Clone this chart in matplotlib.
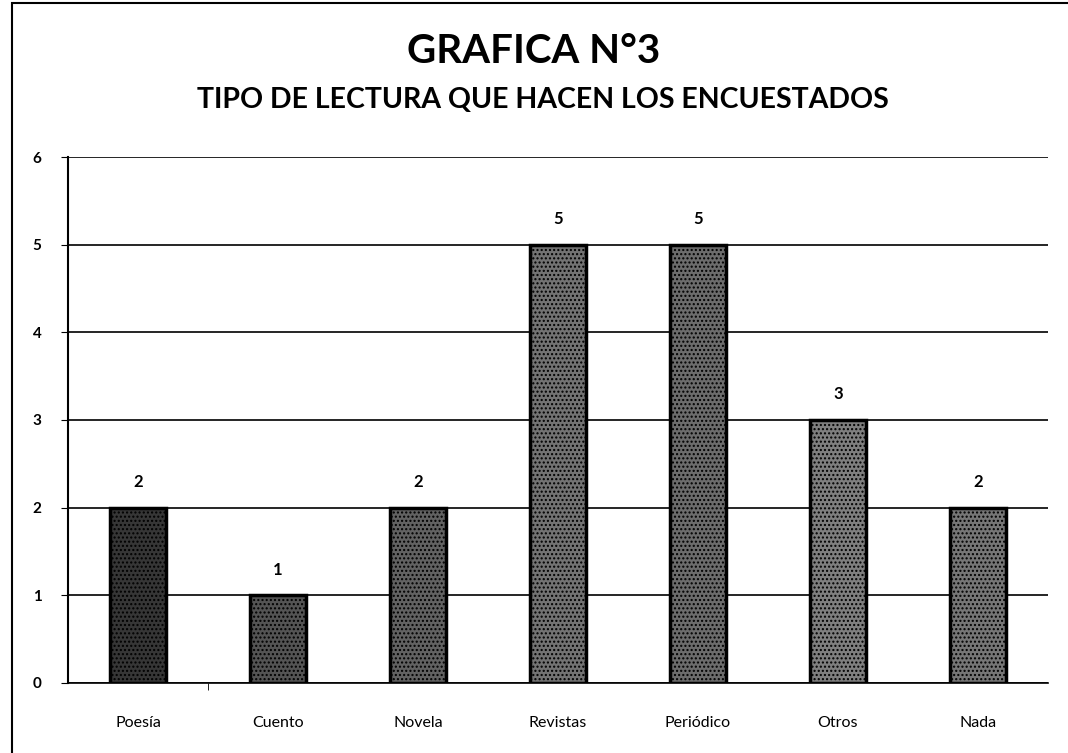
import matplotlib.pyplot as plt
from matplotlib.patches import Rectangle

categorias = ['Poesía', 'Cuento', 'Novela', 'Revistas', 'Periódico', 'Otros', 'Nada']
valores = [2, 1, 2, 5, 5, 3, 2]
grises = ['#363636', '#545454', '#626262', '#737373', '#6c6c6c', '#7f7f7f', '#767676']

plt.rcParams['font.family'] = ['Lato', 'DejaVu Sans']

fig = plt.figure(figsize=(10.68, 7.53), dpi=100)
ax = fig.add_axes([0.0637, 0.093, 0.9173, 0.6985])

x = list(range(len(categorias)))
ax.bar(x, valores, width=0.4, color=grises, edgecolor='black', linewidth=2.5,
       hatch='....', zorder=3)
for xi, v in zip(x, valores):
    ax.text(xi, v + 0.2, str(v), ha='center', va='bottom', fontsize=12,
            fontweight='bold')

ax.set_xlim(-0.5, len(categorias) - 0.5)
ax.set_ylim(0, 6)
ax.set_yticks(range(7))
ax.set_xticks(x)
ax.set_xticklabels(categorias, fontsize=11.5)
ax.set_xticks([0.5], minor=True)
ax.tick_params(axis='x', which='major', length=0, pad=24)
ax.tick_params(axis='x', which='minor', length=5, direction='out', color='black')
ax.tick_params(axis='y', length=5, labelsize=11, pad=14)
for lbl in ax.get_yticklabels():
    lbl.set_fontweight('bold')
ax.grid(axis='y', color='black', linewidth=1.2, zorder=0)
for s in ['top', 'right']:
    ax.spines[s].set_visible(False)
ax.spines['left'].set_linewidth(1.5)
ax.spines['bottom'].set_linewidth(1.2)

fig.text(0.5, 0.932, 'GRAFICA N°3', ha='center', va='center', fontsize=29,
         fontweight='bold')
fig.text(0.508, 0.867, 'TIPO DE LECTURA QUE HACEN LOS ENCUESTADOS', ha='center',
         va='center', fontsize=20.5, fontweight='bold')

fig.patches.append(Rectangle((0.011, -0.01), 1.0, 1.006, transform=fig.transFigure,
                             fill=False, edgecolor='black', linewidth=1.5))

fig.savefig('out.png', dpi=100)
